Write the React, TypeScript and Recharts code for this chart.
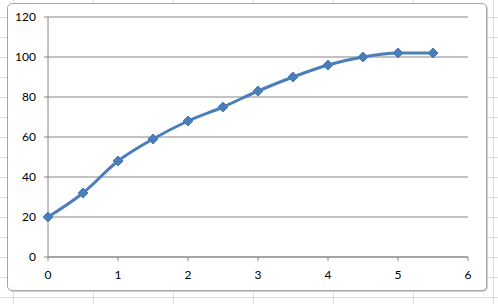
import { LineChart, Line, XAxis, YAxis, CartesianGrid } from 'recharts';

const xValues = [0, 0.5, 1, 1.5, 2, 2.5, 3, 3.5, 4, 4.5, 5, 5.5];
const yValues = [20, 32, 48, 59, 68, 75, 83, 90, 96, 100, 102, 102];
const xTicks = [0, 1, 2, 3, 4, 5, 6];
const yTicks = [0, 20, 40, 60, 80, 100, 120];

const LINE_COLOR = '#4A7EBB';
const AXIS_COLOR = '#868686';

const data = xValues.map((x, i) => ({ x, y: yValues[i] }));

// Excel-style diamond marker
const Diamond = (props: any) => {
  const { cx, cy } = props;
  if (cx == null || cy == null) return null;
  const r = 5;
  return (
    <polygon
      points={`${cx},${cy - r} ${cx + r},${cy} ${cx},${cy + r} ${cx - r},${cy}`}
      fill={LINE_COLOR}
      stroke={LINE_COLOR}
      strokeWidth={1}
    />
  );
};

const tickStyle = { fill: '#000', fontSize: 12, fontFamily: 'Lato, "Open Sans", sans-serif' };

export default function App() {
  return (
    <div
      style={{
        position: 'absolute',
        left: 0,
        top: 0,
        width: 498,
        height: 304,
        overflow: 'hidden',
        backgroundColor: '#fff',
        backgroundImage:
          'repeating-linear-gradient(to right, transparent 0 13px, #dedede 13px 14px, transparent 14px 80px), repeating-linear-gradient(to bottom, transparent 0 17px, #dedede 17px 18px, transparent 18px 20px)',
      }}
    >
      {/* chart area frame */}
      <div
        style={{
          position: 'absolute',
          left: 7,
          top: 3,
          width: 478,
          height: 286,
          background: '#fff',
          border: '1px solid #a6a6a6',
          borderRadius: 5,
          boxShadow: '1px 1px 0 #d0d0d0',
        }}
      />
      <div style={{ position: 'absolute', left: 0, top: 0 }}>
        <LineChart width={498} height={304} data={data} margin={{ top: 17, right: 30, bottom: 0, left: 0 }}>
          <CartesianGrid vertical={false} stroke={AXIS_COLOR} horizontalValues={yTicks} />
          <XAxis
            dataKey="x"
            type="number"
            domain={[0, 6]}
            ticks={xTicks}
            height={47}
            tickSize={4}
            tickMargin={9}
            stroke={AXIS_COLOR}
            tick={tickStyle}
          />
          <YAxis
            type="number"
            domain={[0, 120]}
            ticks={yTicks}
            width={48}
            tickSize={4}
            tickMargin={8}
            stroke={AXIS_COLOR}
            tick={tickStyle}
          />
          <Line
            dataKey="y"
            type="monotone"
            stroke={LINE_COLOR}
            strokeWidth={3}
            dot={<Diamond />}
            activeDot={false}
            isAnimationActive={false}
          />
        </LineChart>
      </div>
    </div>
  );
}
